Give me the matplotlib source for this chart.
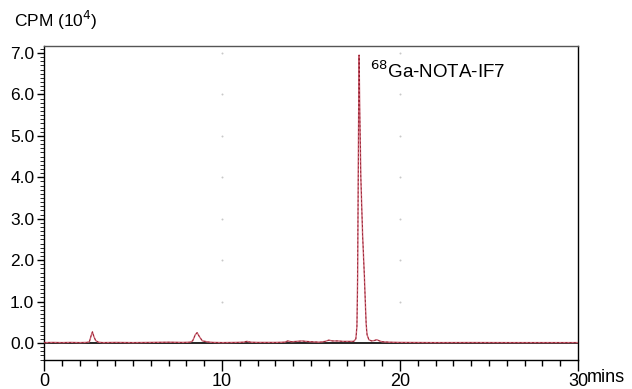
import matplotlib
matplotlib.use("Agg")
import matplotlib.pyplot as plt
from matplotlib.ticker import MultipleLocator, FixedLocator

plt.rcParams['font.family'] = ['Liberation Sans', 'DejaVu Sans']

time_min = [0, 0.5, 1.0, 1.5, 2.0, 2.4, 2.55, 2.65, 2.72, 2.8, 2.9, 3.05, 3.3, 4, 5, 6, 7,
            7.8, 8.2, 8.35, 8.5, 8.6, 8.75, 8.9, 9.05, 9.2, 9.5, 10, 10.8, 11.2, 11.4, 11.6,
            12, 13, 13.5, 13.7, 13.9, 14.2, 14.5, 14.7, 15.0, 15.5, 15.8, 16.0, 16.2, 16.5,
            16.8, 17.1, 17.4, 17.52, 17.58, 17.62, 17.66, 17.70, 17.74, 17.8, 17.9, 18.0,
            18.05, 18.1, 18.15, 18.25, 18.4, 18.55, 18.7, 18.85, 19.0, 19.4, 20, 22, 24, 26,
            28, 30]
cpm = [0.01, 0.015, 0.01, 0.015, 0.01, 0.015, 0.03, 0.18, 0.27, 0.16, 0.06, 0.02, 0.01,
       0.015, 0.01, 0.015, 0.02, 0.015, 0.02, 0.05, 0.2, 0.25, 0.14, 0.05, 0.04, 0.025,
       0.015, 0.01, 0.015, 0.02, 0.04, 0.02, 0.015, 0.015, 0.02, 0.05, 0.03, 0.04, 0.05,
       0.04, 0.03, 0.02, 0.04, 0.07, 0.05, 0.05, 0.04, 0.04, 0.04, 0.1, 0.4, 1.6, 4.5,
       6.95, 5.6, 4.0, 2.6, 1.6, 1.0, 0.45, 0.2, 0.08, 0.05, 0.06, 0.08, 0.05, 0.03, 0.02,
       0.015, 0.01, 0.012, 0.01, 0.01, 0.01]

x_ticks = [0, 10, 20, 30]
x_labels = ['0', '10', '20', '30']
y_ticks = [0, 1, 2, 3, 4, 5, 6, 7]
y_labels = ['0.0', '1.0', '2.0', '3.0', '4.0', '5.0', '6.0', '7.0']
grid_x = [10, 20]
grid_y = [1, 2, 3, 4, 5, 6, 7]

fig = plt.figure(figsize=(6.32, 3.89), dpi=100)
ax = fig.add_axes([44/632, 1-360/389, (578-44)/632, (360-46)/389])
ax.set_xlim(0, 30)
ax.set_ylim(-0.41, 7.17)

# faint grid dots
gx = [x for x in grid_x for _ in grid_y]
gy = [y for _ in grid_x for y in grid_y]
ax.scatter(gx, gy, s=2, color='#c8c8c8', zorder=1, linewidths=0)

ax.axhline(0, color='black', lw=1.2, zorder=2)
ax.plot(time_min, cpm, color='#cc6676', lw=1.0, zorder=3)
ax.plot(time_min, cpm, color='#8a1020', lw=0.5, ls=(0, (3, 3)), zorder=4)

ax.xaxis.set_major_locator(FixedLocator(x_ticks))
ax.set_xticklabels(x_labels, fontsize=13)
ax.xaxis.set_minor_locator(MultipleLocator(1))
ax.yaxis.set_major_locator(FixedLocator(y_ticks))
ax.set_yticklabels(y_labels, fontsize=12.5)
ax.yaxis.set_minor_locator(MultipleLocator(0.1))

ax.tick_params(axis='x', which='major', direction='out', length=8, width=1, pad=1)
ax.tick_params(axis='x', which='minor', direction='out', length=4, width=1)
ax.tick_params(axis='y', which='major', direction='out', length=5, width=1, pad=2)
ax.tick_params(axis='y', which='minor', direction='out', length=3, width=0.6)

for s in ax.spines.values():
    s.set_linewidth(1.0)
ax.spines['top'].set_color('#555555')

ax.text(18.3, 6.55, r'$^{68}$Ga-NOTA-IF7', fontsize=13.5, ha='left', va='center')
fig.text(14/632, 1-20/389, r'CPM (10$^4$)', fontsize=12.5, ha='left', va='center')
fig.text(587/632, 1-378/389, 'mins', fontsize=13, ha='left', va='center')

fig.savefig('out.png', dpi=100)
